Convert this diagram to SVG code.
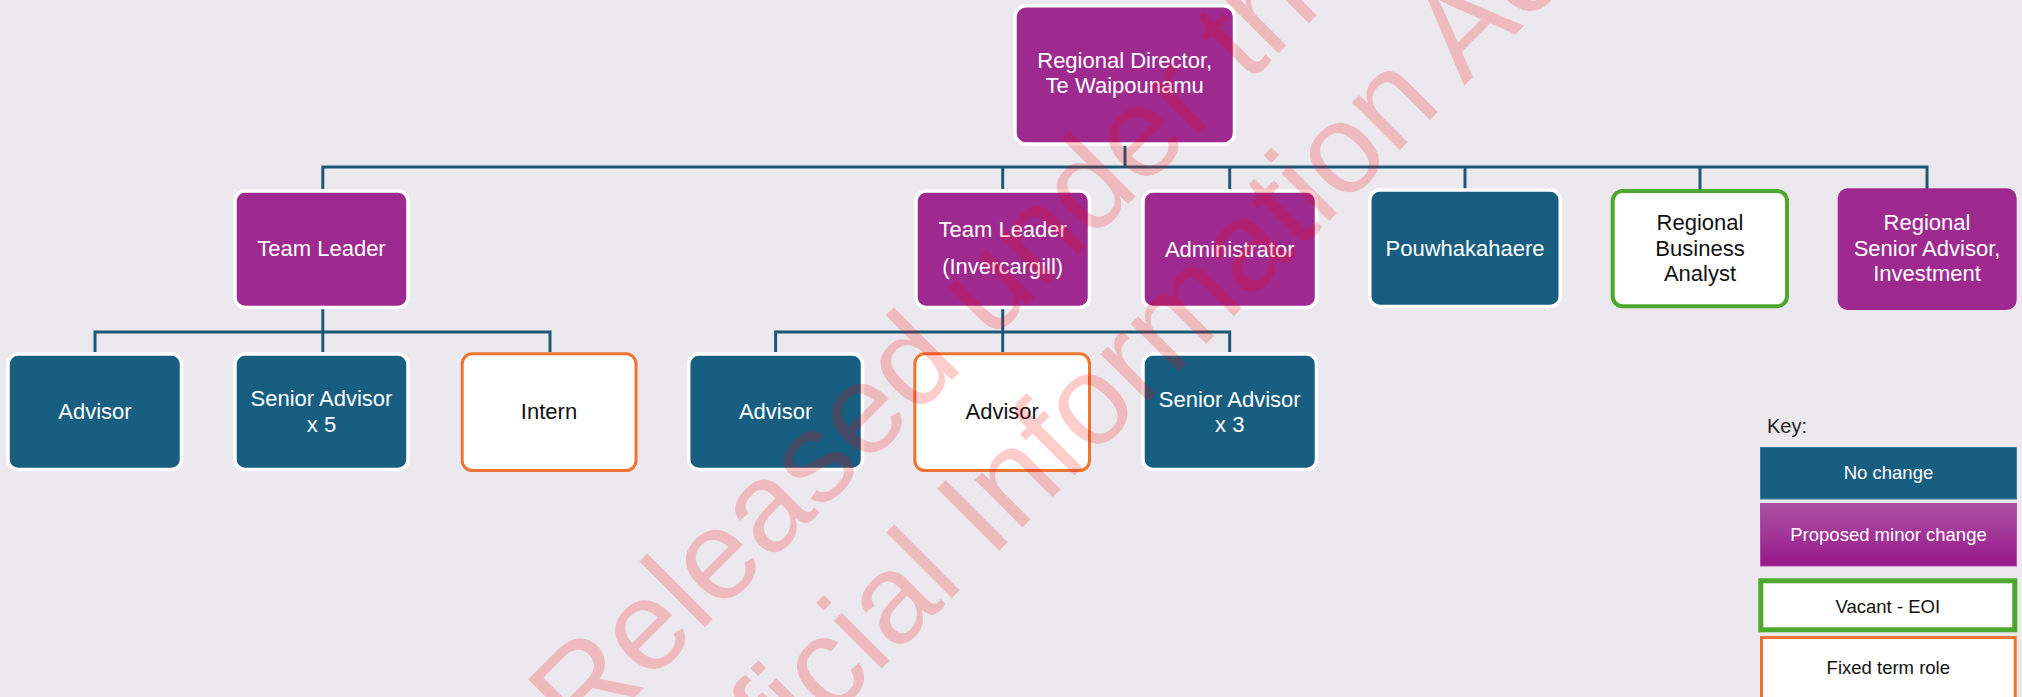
<svg xmlns="http://www.w3.org/2000/svg" width="2022" height="697" viewBox="0 0 2022 697">
<defs>
<style>
.teal{fill:#175e81;stroke:#ffffff;stroke-width:3.5}
.purple{fill:#9e2a8f;stroke:#ffffff;stroke-width:3.5}
.fixed{fill:#ffffff;stroke:#ed7431;stroke-width:3}
.vacant{fill:#ffffff;stroke:#4ea72e;stroke-width:4}
.t{font-family:"Liberation Sans",Arial,sans-serif;font-size:22px;text-anchor:middle}
.w{fill:#ffffff}
.b{fill:#111111}
.conn{fill:none;stroke:#1e5877;stroke-width:3}
.kt{font-family:"Liberation Sans",Arial,sans-serif;font-size:18.5px;text-anchor:middle}
.wm{font-family:"Liberation Sans",Arial,sans-serif;font-size:128px;fill:#ff0000;fill-opacity:0.2}
</style>
<linearGradient id="pg" x1="0" y1="0" x2="0" y2="1">
<stop offset="0" stop-color="#aa52a3"/>
<stop offset="1" stop-color="#99178b"/>
</linearGradient>
</defs>
<rect x="0" y="0" width="2022" height="697" fill="#ebe9ee"/>

<g id="connectors" class="conn">
<path d="M1125 146 V167"/>
<path d="M322.8 189 V167 H1927 V189"/>
<path d="M1002.7 167 V189"/>
<path d="M1229.7 167 V189"/>
<path d="M1465 167 V189"/>
<path d="M1700 167 V189"/>
<path d="M322.8 309 V352"/>
<path d="M95 352 V332 H550 V352"/>
<path d="M1002.7 309 V352"/>
<path d="M775.6 352 V332 H1229.7 V352"/>
</g>

<g id="director">
<rect class="purple" x="1015" y="5.75" width="219.5" height="138.2" rx="11"/>
<text class="t w" x="1124.7" y="68.3">Regional Director,</text>
<text class="t w" x="1124.7" y="93.3">Te Waipounamu</text>
</g>

<g id="team-leader">
<rect class="purple" x="235" y="191" width="173" height="116.5" rx="10"/>
<text class="t w" x="321.5" y="256">Team Leader</text>
</g>

<g id="team-leader-invercargill">
<rect class="purple" x="916" y="191" width="173.5" height="116.5" rx="10"/>
<text class="t w" x="1002.7" y="236.7">Team Leader</text>
<text class="t w" x="1002.7" y="274">(Invercargill)</text>
</g>

<g id="administrator">
<rect class="purple" x="1143" y="191" width="173.5" height="116.5" rx="10"/>
<text class="t w" x="1229.7" y="257">Administrator</text>
</g>

<g id="pouwhakahaere">
<rect class="teal" x="1369.75" y="190" width="190.5" height="116.5" rx="10"/>
<text class="t w" x="1465" y="256">Pouwhakahaere</text>
</g>

<g id="regional-business-analyst">
<rect class="vacant" x="1612.7" y="191" width="174.3" height="115.3" rx="10"/>
<text class="t b" x="1700" y="230">Regional</text>
<text class="t b" x="1700" y="256">Business</text>
<text class="t b" x="1700" y="281">Analyst</text>
</g>

<g id="regional-senior-advisor-investment">
<rect x="1837.7" y="188.3" width="179" height="121.7" rx="10" fill="#9e2a8f"/>
<text class="t w" x="1927" y="230">Regional</text>
<text class="t w" x="1927" y="256">Senior Advisor,</text>
<text class="t w" x="1927" y="281">Investment</text>
</g>

<g id="advisor-1">
<rect class="teal" x="8" y="354" width="173.5" height="115.5" rx="10"/>
<text class="t w" x="95" y="418.5">Advisor</text>
</g>

<g id="senior-advisor-x5">
<rect class="teal" x="235" y="354" width="173" height="115.5" rx="10"/>
<text class="t w" x="321.5" y="406">Senior Advisor</text>
<text class="t w" x="321.5" y="432">x 5</text>
</g>

<g id="intern">
<rect class="fixed" x="462.2" y="353.8" width="173.8" height="116.7" rx="10"/>
<text class="t b" x="549" y="418.5">Intern</text>
</g>

<g id="advisor-2">
<rect class="teal" x="688.7" y="354" width="173.8" height="115.5" rx="10"/>
<text class="t w" x="775.6" y="418.5">Advisor</text>
</g>

<g id="advisor-3">
<rect class="fixed" x="914.8" y="353.8" width="174.7" height="116.7" rx="10"/>
<text class="t b" x="1002.2" y="418.5">Advisor</text>
</g>

<g id="senior-advisor-x3">
<rect class="teal" x="1143" y="354" width="173.5" height="115.5" rx="10"/>
<text class="t w" x="1229.7" y="406.5">Senior Advisor</text>
<text class="t w" x="1229.7" y="432">x 3</text>
</g>

<g id="key">
<text x="1767" y="433" font-family="Liberation Sans, Arial, sans-serif" font-size="20" fill="#222222">Key:</text>
<rect x="1760.5" y="447.5" width="256" height="51.5" fill="#175e81" stroke="#3c7d9b" stroke-width="1"/>
<text class="kt w" x="1888.5" y="478.5">No change</text>
<rect x="1760.5" y="503.5" width="256" height="62.5" fill="url(#pg)" stroke="#b04aa6" stroke-width="1"/>
<text class="kt w" x="1888.5" y="541">Proposed minor change</text>
<rect x="1760.8" y="580.8" width="254" height="49" fill="#ffffff" stroke="#4ea72e" stroke-width="5"/>
<text class="kt b" x="1887.8" y="612.5" font-size="19.5">Vacant - EOI</text>
<rect x="1761.5" y="637.5" width="253.7" height="70" fill="#ffffff" stroke="#ed7431" stroke-width="3"/>
<text class="kt b" x="1888.3" y="673.5">Fixed term role</text>
</g>

<g id="watermark">
<text class="wm" transform="translate(583,749) rotate(-45)">Released under the</text>
<text class="wm" transform="translate(691,859) rotate(-45)">Official Information Act</text>
</g>
</svg>
